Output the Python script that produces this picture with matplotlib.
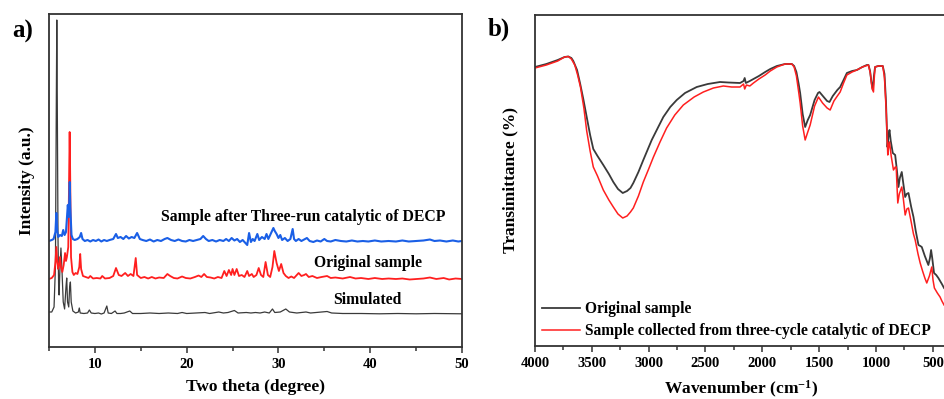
import matplotlib
matplotlib.use("Agg")
import matplotlib.pyplot as plt
from matplotlib.ticker import MultipleLocator

plt.rcParams['font.family'] = ['Liberation Serif', 'DejaVu Serif']
plt.rcParams['font.weight'] = 'bold'
plt.rcParams['mathtext.fontset'] = 'custom'
plt.rcParams['mathtext.rm'] = 'Liberation Serif:bold'
plt.rcParams['mathtext.bf'] = 'Liberation Serif:bold'
plt.rcParams['mathtext.default'] = 'bf'

# ---------------- XRD data (two theta, intensity a.u.) ----------------
sim_x = [5.0, 5.3, 5.55, 5.7, 5.8, 5.85, 5.9, 5.98, 6.05, 6.1, 6.2, 6.3, 6.4, 6.55, 6.7,
         6.85, 6.93, 7.02, 7.15, 7.25, 7.33, 7.42, 7.6, 7.9, 8.2, 8.3, 8.4, 8.8, 9.2, 9.4,
         9.6, 10.0, 10.4, 10.7, 11.0, 11.3, 11.45, 11.8, 12.2, 12.4, 12.8, 13.2, 13.8, 14.1,
         15.0, 16.0, 17.0, 18.0, 19.0, 19.5, 20.0, 21.0, 22.0, 22.5, 23.5, 24.0, 24.5, 25.2,
         25.6, 26.5, 27.0, 27.5, 28.0, 28.5, 29.0, 29.35, 29.6, 30.2, 30.8, 31.2, 32.0, 33.0,
         33.5, 35.3, 35.8, 37.0, 39.0, 41.0, 43.0, 45.0, 47.0, 50.0]
sim_y = [35, 35, 40, 80, 250, 327, 250, 110, 60, 52, 80, 99, 80, 45, 38,
         60, 69, 45, 40, 60, 65, 45, 36, 34, 35, 39, 34, 33.5, 34, 37,
         34, 33.5, 34, 33, 34, 41, 34, 33.5, 36, 33.5, 33.5, 34, 36, 33.5,
         33.5, 34, 33.5, 34, 33.5, 34.5, 33.5, 34, 34.5, 33.5, 35, 34, 34.5, 36.5,
         34, 34.5, 34, 34.5, 34, 35, 34, 38, 34.5, 35, 38, 35, 34, 35,
         34, 35.5, 34, 33.5, 33.5, 33.2, 33.5, 33.2, 33.5, 33.2]

orig_x = [5.0, 5.3, 5.55, 5.7, 5.8, 5.9, 6.0, 6.1, 6.2, 6.3, 6.45, 6.6, 6.75, 6.85, 6.95,
          7.1, 7.2, 7.25, 7.3, 7.4, 7.55, 7.7, 7.9, 8.1, 8.3, 8.4, 8.5, 8.7, 9.0, 9.3,
          9.5, 9.8, 10.2, 10.6, 10.8, 11.1, 11.6, 12.0, 12.3, 12.6, 12.9, 13.3, 13.6, 13.9,
          14.2, 14.45, 14.6, 15.0, 15.4, 15.8, 16.2, 16.6, 17.0, 17.5, 17.9, 18.2, 18.6,
          19.0, 19.5, 19.9, 20.4, 20.9, 21.3, 21.6, 21.9, 22.2, 22.6, 23.0, 23.4, 23.8,
          24.1, 24.35, 24.6, 24.85, 25.0, 25.2, 25.45, 25.7, 26.0, 26.3, 26.6, 26.8, 27.1,
          27.3, 27.6, 27.85, 28.1, 28.35, 28.6, 28.85, 29.1, 29.35, 29.55, 29.8, 30.05,
          30.3, 30.55, 30.8, 31.1, 31.4, 31.7, 32.0, 32.2, 32.5, 32.8, 33.0, 33.3, 33.7,
          34.2, 34.7, 35.3, 35.7, 36.2, 37.0, 37.8, 38.4, 39.0, 39.8, 40.5, 41.3, 42.0,
          42.8, 43.5, 44.3, 45.0, 45.8, 46.5, 47.2, 48.0, 48.6, 49.3, 50.0]
orig_y = [68, 69, 72, 85, 100, 85, 78, 82, 90, 80, 75, 82, 94, 86, 90,
          100, 180, 215, 180, 90, 75, 72, 74, 73, 80, 93, 78, 71, 70, 69,
          71, 68.5, 69, 68.5, 71, 68.5, 69, 71, 79, 72, 71, 74, 71, 73,
          71, 89, 72, 69, 70, 68.5, 70, 68.5, 69.5, 69, 73, 71, 69,
          68.5, 70.5, 69, 68.5, 70, 71.5, 70, 73, 70, 69.5, 68.5, 70, 69,
          76, 71, 77, 72, 78, 72, 78, 71, 72, 70, 76, 71, 73,
          70, 72, 79, 72, 70, 85, 72, 70, 80, 96, 84, 76,
          83, 74, 71, 69, 70.5, 69, 72, 74, 71, 72, 73, 70, 71,
          69, 70, 71, 69, 69.5, 68.5, 70, 68.5, 69, 68, 69, 68, 68.5,
          68, 68.5, 67.5, 68, 68.5, 69.5, 68, 69, 67.5, 68.5, 68]

after_x = [5.0, 5.3, 5.5, 5.7, 5.8, 5.9, 6.0, 6.2, 6.4, 6.55, 6.7, 6.85, 6.95, 7.05, 7.15,
           7.22, 7.26, 7.32, 7.45, 7.6, 7.8, 8.1, 8.35, 8.5, 8.65, 8.9, 9.2, 9.5, 9.8,
           10.1, 10.4, 10.7, 11.0, 11.3, 11.6, 12.0, 12.3, 12.5, 12.8, 13.1, 13.4, 13.7,
           14.0, 14.3, 14.6, 14.9, 15.2, 15.6, 16.0, 16.4, 16.8, 17.2, 17.6, 17.9, 18.3,
           18.7, 19.1, 19.5, 19.9, 20.3, 20.7, 21.1, 21.5, 21.8, 22.1, 22.4, 22.8, 23.2,
           23.6, 24.0, 24.3, 24.6, 24.9, 25.2, 25.5, 25.8, 26.1, 26.4, 26.6, 26.8, 27.0,
           27.2, 27.4, 27.7, 27.9, 28.2, 28.5, 28.7, 28.9, 29.1, 29.3, 29.45, 29.6, 29.8,
           30.0, 30.2, 30.4, 30.7, 31.0, 31.3, 31.55, 31.7, 31.9, 32.2, 32.5, 32.8, 33.1,
           33.4, 33.8, 34.2, 34.6, 35.0, 35.3, 35.7, 36.2, 36.8, 37.4, 38.0, 38.6, 39.2,
           39.8, 40.5, 41.2, 42.0, 42.8, 43.5, 44.2, 45.0, 45.8, 46.5, 47.0, 47.6, 48.3,
           49.0, 49.6, 50.0]
after_y = [106, 107, 108, 115, 134, 116, 110, 112, 111, 117, 112, 115, 128, 142, 130,
           150, 165, 140, 112, 108, 107, 108, 110, 114, 108, 106, 107, 105.5, 107,
           106, 107.5, 105.5, 107, 106, 107, 108, 113, 109, 110, 108, 111, 108.5,
           110, 109, 114, 108, 107, 106, 107.5, 105.5, 107, 106, 108, 109, 107,
           106, 107.5, 106, 105.5, 107, 106, 107, 108, 111, 108, 106, 107, 105.5,
           107, 106, 108, 106, 109, 106.5, 108, 105, 107, 104, 102, 114, 105,
           108, 106, 113, 107, 110, 108, 113, 108, 112, 116, 119, 116, 113,
           109, 112, 107, 109, 106, 108, 118, 108, 106, 108, 106, 107.5, 109,
           106, 105, 106.5, 105.5, 108, 106, 105.5, 107, 106, 105.5, 106.5, 105.5, 106,
           105.5, 106.5, 105.5, 106, 105.5, 106.5, 105.5, 106, 106.5, 107.5, 106, 106.5, 105.5,
           106.5, 105.5, 106]

xrd_labels = ["Sample after Three-run catalytic of DECP", "Original sample", "Simulated"]
xrd_label_pos = [(32.65, 130), (39.8, 83.7), (39.7, 47)]

# ---------------- FTIR data (wavenumber, transmittance a.u.) ----------------
ir_orig_x = [4000, 3900, 3800, 3740, 3707, 3680, 3663, 3630, 3604, 3575, 3545, 3515, 3487,
             3450, 3399, 3350, 3311, 3270, 3228, 3190, 3160, 3135, 3090, 3047, 3010, 2973,
             2920, 2871, 2810, 2753, 2680, 2577, 2480, 2372, 2300, 2196, 2165, 2155, 2145,
             2110, 2078, 2030, 1975, 1930, 1872, 1800, 1740, 1720, 1700, 1680, 1667, 1645,
             1623, 1600, 1579, 1540, 1510, 1497, 1460, 1430, 1409, 1380, 1340, 1315, 1285,
             1256, 1210, 1168, 1120, 1080, 1066, 1052, 1040, 1028, 1018, 1008, 980, 940,
             925, 912, 899, 890, 881, 870, 852, 831, 815, 802, 790, 773, 760, 743, 730,
             714, 690, 670, 650, 626, 610, 597, 570, 539, 525, 515, 505, 489, 470, 451,
             420, 401]
ir_orig_y = [279, 282, 286, 289, 289.5, 288, 285, 276, 263, 247, 229, 211, 197,
             190, 181, 172, 164, 157, 153, 155, 158, 163, 174, 186, 196, 206,
             218, 229, 239, 246, 253, 259, 262, 264, 263.5, 263, 265, 268, 263,
             265, 267, 270, 274, 277, 280, 282, 282, 280, 274, 262, 253, 232,
             219, 226, 231, 246, 253, 254, 249, 245, 244, 250, 256, 259, 266,
             273, 275, 276, 279, 281, 281, 275, 264, 256, 270, 279, 280, 280,
             272, 245, 199, 210, 216, 205, 193, 191, 175, 159, 168, 174, 163, 149, 152,
             153, 139, 129, 115, 101, 100, 99, 90, 81, 88, 96, 88, 73, 71, 68,
             62, 58]

ir_after_x = [4000, 3900, 3800, 3740, 3707, 3680, 3650, 3625, 3600, 3570, 3545, 3515, 3487,
              3450, 3399, 3350, 3311, 3270, 3228, 3190, 3160, 3135, 3090, 3047, 3000, 2958,
              2900, 2842, 2770, 2695, 2600, 2519, 2430, 2343, 2270, 2196, 2165, 2155, 2140,
              2110, 2078, 2030, 1975, 1930, 1872, 1800, 1740, 1720, 1700, 1680, 1667, 1645,
              1623, 1600, 1579, 1540, 1506, 1470, 1430, 1403, 1370, 1340, 1315, 1285, 1256,
              1210, 1168, 1120, 1066, 1050, 1035, 1022, 1015, 1008, 980, 940, 925, 910,
              896, 888, 881, 866, 846, 830, 822, 815, 808, 795, 773, 760, 743, 728, 714,
              690, 670, 655, 630, 611, 590, 570, 553, 530, 509, 498, 486, 460, 436, 420,
              401]
ir_after_y = [278, 281, 285, 289, 289.5, 287, 281, 271, 259, 238, 215, 195, 179,
              170, 156, 146, 139, 132, 128, 130, 134, 138, 150, 164, 177, 189,
              204, 218, 231, 241, 249, 254, 258, 260, 259, 259, 262, 257, 261,
              260, 263, 267, 271, 275, 279, 282, 282, 279, 270, 254, 243, 220,
              206, 214, 221, 240, 249, 243, 238, 236, 245, 250, 254, 263, 271,
              274, 276, 279, 281, 273, 258, 254, 268, 279, 280, 280, 268, 235,
              191, 200, 204, 190, 176, 179, 179, 160, 143, 152, 159, 148, 131, 137, 138,
              124, 112, 106, 92, 83, 75, 68, 63, 70, 79, 66, 58, 53, 49, 45,
              41]

ir_labels = ["Original sample", "Sample collected from three-cycle catalytic of DECP"]

# ---------------- figure ----------------
W, H = 944, 399
fig = plt.figure(figsize=(W / 100, H / 100), dpi=100)

spine_c = '#333333'
black_c = '#3a3a3a'
red_c = '#ff1f1f'
blue_c = '#1a5fe6'


def px_axes(l, t, r, b):
    return fig.add_axes([l / W, 1 - b / H, (r - l) / W, (b - t) / H])


def style(ax):
    for s in ax.spines.values():
        s.set_color(spine_c)
        s.set_linewidth(1.3)
    ax.tick_params(axis='x', which='both', direction='out', color=spine_c,
                   labelsize=10.5, pad=4)
    ax.tick_params(axis='x', which='major', length=4, width=1.1)
    ax.tick_params(axis='x', which='minor', length=3, width=1.1)
    ax.set_yticks([])
    for lab in ax.get_xticklabels():
        lab.set_fontweight('bold')


# a) XRD
ax1 = px_axes(49, 14, 462, 347)
ax1.plot(sim_x, sim_y, color=black_c, lw=0.9)
ax1.plot(orig_x, orig_y, color=red_c, lw=1.3)
ax1.plot(after_x, after_y, color=blue_c, lw=1.5)
ax1.set_xlim(5, 50)
ax1.set_ylim(0, 333)
ax1.xaxis.set_major_locator(MultipleLocator(10))
ax1.xaxis.set_minor_locator(MultipleLocator(5))
style(ax1)
ax1.set_xlabel("Two theta (degree)", fontsize=12.5, fontweight='bold', labelpad=6)
ax1.set_ylabel("Intensity (a.u.)", fontsize=12.5, fontweight='bold', labelpad=10)
for txt, (tx, ty) in zip(xrd_labels, xrd_label_pos):
    ax1.text(tx, ty, txt, ha='center', va='center', fontsize=11.3, fontweight='bold')
fig.text(12 / W, 1 - 31 / H, "a)", fontsize=18, fontweight='bold', va='center', ha='left')

# b) FTIR
ax2 = px_axes(535, 15, 947, 346)
l1, = ax2.plot(ir_orig_x, ir_orig_y, color=black_c, lw=1.3)
l2, = ax2.plot(ir_after_x, ir_after_y, color=red_c, lw=1.1)
ax2.set_xlim(4000, 375)
ax2.set_ylim(0, 331)
ax2.xaxis.set_major_locator(MultipleLocator(500))
ax2.xaxis.set_minor_locator(MultipleLocator(250))
style(ax2)
ax2.set_xlabel(r"Wavenumber (cm$^{-1}$)", fontsize=12.5, fontweight='bold', labelpad=6)
ax2.set_ylabel("Transimittance (%)", fontsize=12.5, fontweight='bold', labelpad=12)
leg = ax2.legend([l1, l2], ir_labels, loc='lower left', frameon=False,
                 prop={'weight': 'bold', 'size': 11.2}, handlelength=2.45,
                 handletextpad=0.32, labelspacing=0.4, borderaxespad=0.0,
                 borderpad=0.0, bbox_to_anchor=(0.016, 0.02))
fig.text(488 / W, 1 - 29 / H, "b)", fontsize=18, fontweight='bold', va='center', ha='left')

fig.savefig("out.png", dpi=100)
